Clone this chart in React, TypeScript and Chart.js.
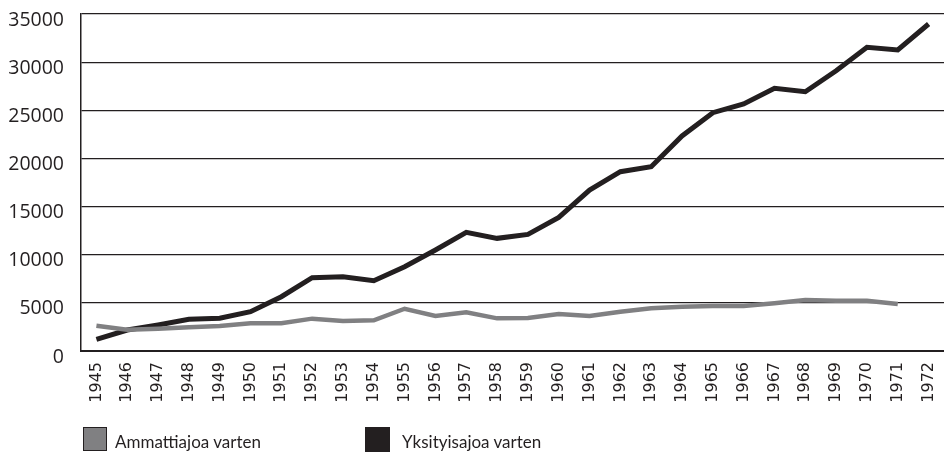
import React, { useEffect, useRef } from "react";
import { Chart, registerables } from "chart.js";

Chart.register(...registerables);

const years = [
  "1945", "1946", "1947", "1948", "1949", "1950", "1951", "1952", "1953", "1954",
  "1955", "1956", "1957", "1958", "1959", "1960", "1961", "1962", "1963", "1964",
  "1965", "1966", "1967", "1968", "1969", "1970", "1971", "1972",
];

const ammattiajoa: (number | null)[] = [
  2630, 2200, 2300, 2460, 2600, 2880, 2880, 3360, 3110, 3190,
  4390, 3630, 4020, 3390, 3430, 3840, 3630, 4080, 4430, 4600,
  4670, 4670, 4950, 5300, 5220, 5220, 4880, null,
];

const yksityisajoa: number[] = [
  1215, 2180, 2700, 3290, 3400, 4080, 5640, 7610, 7720, 7300,
  8750, 10490, 12320, 11700, 12110, 13880, 16720, 18620, 19140, 22330,
  24750, 25650, 27280, 26930, 29110, 31540, 31260, 33960,
];

const legendLabels = ["Ammattiajoa varten", "Yksityisajoa varten"];
const seriesColors = ["#808082", "#231f20"];

export default function App() {
  const canvasRef = useRef<HTMLCanvasElement | null>(null);

  useEffect(() => {
    if (!canvasRef.current) return;
    const chart = new Chart(canvasRef.current, {
      type: "line",
      data: {
        labels: years,
        datasets: [
          {
            label: legendLabels[0],
            data: ammattiajoa,
            borderColor: seriesColors[0],
            backgroundColor: seriesColors[0],
            borderWidth: 4.5,
            pointRadius: 0,
            tension: 0,
            spanGaps: false,
          },
          {
            label: legendLabels[1],
            data: yksityisajoa,
            borderColor: seriesColors[1],
            backgroundColor: seriesColors[1],
            borderWidth: 5,
            pointRadius: 0,
            tension: 0,
          },
        ],
      },
      options: {
        responsive: false,
        animation: false,
        layout: { padding: { top: 14, left: 0, right: 0, bottom: 0 } },
        plugins: {
          legend: { display: false },
          tooltip: { enabled: false },
        },
        scales: {
          x: {
            offset: true,
            grid: { display: false, drawTicks: false },
            border: { display: true, color: "#231f20", width: 2 },
            ticks: {
              autoSkip: false,
              minRotation: 90,
              maxRotation: 90,
              padding: 11,
              color: "#231f20",
              font: { family: "'DejaVu Sans', Verdana, sans-serif", size: 16 },
            },
            afterFit: (scale: any) => {
              scale.height = 102;
              scale.paddingLeft = 0;
              scale.paddingRight = 0;
            },
          },
          y: {
            min: 0,
            max: 35000,
            grid: { color: "#231f20", lineWidth: 1.2, drawTicks: false },
            border: { display: true, color: "#231f20", width: 1.5 },
            ticks: {
              stepSize: 5000,
              padding: 17,
              labelOffset: 6,
              color: "#231f20",
              font: { family: "'Open Sans', sans-serif", size: 19.5 },
              callback: (v: any) => String(v),
            },
            afterFit: (scale: any) => {
              scale.width = 81;
              scale.paddingTop = 0;
              scale.paddingBottom = 0;
            },
          },
        },
      },
    });
    return () => chart.destroy();
  }, []);

  const legendText: React.CSSProperties = {
    position: "absolute",
    fontFamily: "Lato, sans-serif",
    fontSize: 17,
    lineHeight: "17px",
    color: "#231f20",
    whiteSpace: "nowrap",
  };

  return (
    <div
      style={{
        position: "fixed",
        left: 0,
        top: 0,
        width: 944,
        height: 453,
        background: "#ffffff",
        overflow: "hidden",
      }}
    >
      <canvas
        ref={canvasRef}
        width={944}
        height={453}
        style={{ position: "absolute", left: 0, top: 0, width: 944, height: 453 }}
      />
      <div
        style={{
          position: "absolute",
          left: 83,
          top: 427,
          width: 22,
          height: 22,
          background: seriesColors[0],
          border: "1.5px solid #231f20",
        }}
      />
      <div style={{ ...legendText, left: 115, top: 433 }}>{legendLabels[0]}</div>
      <div
        style={{
          position: "absolute",
          left: 365,
          top: 427,
          width: 25,
          height: 25,
          background: seriesColors[1],
        }}
      />
      <div style={{ ...legendText, left: 402, top: 433 }}>{legendLabels[1]}</div>
    </div>
  );
}
